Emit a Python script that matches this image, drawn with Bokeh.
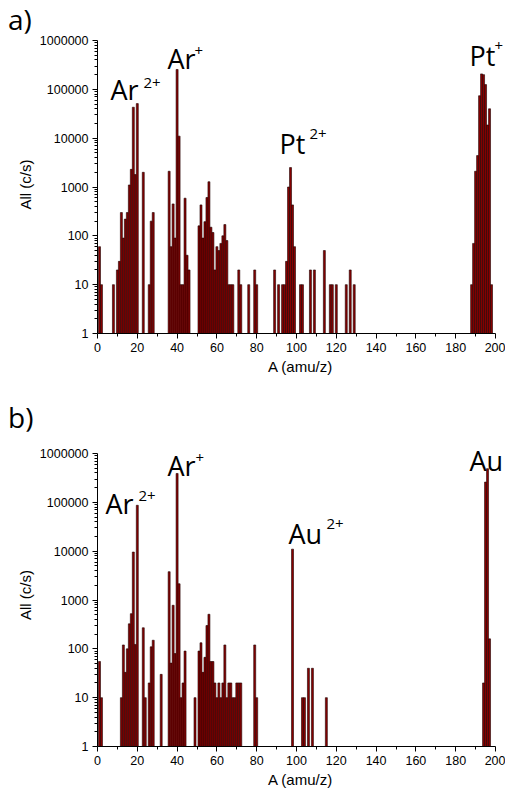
from bokeh.plotting import figure
from bokeh.models import Range1d, FixedTicker, NumeralTickFormatter, Label, ColumnDataSource, Div
from bokeh.layouts import column
from bokeh.embed import file_html
from bokeh.resources import INLINE

# ---------------- data ----------------
mass_a = [1, 2, 8, 10, 11, 12, 13, 14, 15, 16, 17, 18, 19, 20, 23, 26, 27, 28,
          36, 37, 38, 39, 40, 41, 42, 43, 44, 45, 46,
          51, 52, 53, 54, 55, 56, 57, 58, 59, 60, 61, 62, 63, 64, 65, 66, 67, 68,
          71, 72, 76, 79, 80, 89, 91, 93, 94, 95, 96, 97, 98, 99,
          102, 103, 107, 109, 114, 117, 118, 120, 125, 127, 129,
          188, 189, 190, 191, 192, 193, 194, 195, 196, 197, 198]
counts_a = [60, 10, 10, 20, 30, 300, 90, 220, 300, 1100, 2300, 43000, 1800, 51000, 2000, 10, 200, 300,
            2100, 60, 450, 90, 255000, 11000, 10, 10, 590, 40, 20,
            160, 430, 90, 195, 610, 1280, 150, 117, 20, 60, 50, 70, 100, 170, 80, 10, 10, 10,
            20, 10, 10, 20, 10, 20, 10, 10, 10, 30, 1000, 2500, 430, 60,
            10, 10, 20, 20, 50, 10, 10, 10, 10, 20, 10,
            10, 70, 2100, 4400, 74000, 207000, 200000, 125000, 18600, 40000, 10]

mass_b = [1, 2, 12, 13, 14, 15, 16, 17, 18, 19, 20, 23, 24, 26, 27, 28, 32,
          36, 37, 38, 39, 40, 41, 42, 43, 44, 49,
          51, 52, 53, 54, 55, 56, 57, 58, 59, 60, 61, 62, 63, 64, 65, 66, 67, 68, 69, 70, 71, 72,
          79, 80, 98, 103, 104, 106, 108, 115,
          194, 195, 196, 197]
counts_b = [55, 10, 10, 120, 33, 100, 325, 525, 9600, 123, 87000, 270, 10, 20, 110, 150, 30,
            3800, 51, 780, 80, 390000, 2150, 10, 20, 90, 10,
            90, 133, 33, 67, 300, 510, 55, 55, 20, 10, 20, 10, 20, 120, 10, 20, 20, 10, 10, 20, 20, 20,
            120, 10, 11000, 10, 10, 40, 40, 10,
            20, 260000, 490000, 160]

x_ticks = list(range(0, 201, 20))
y_ticks = [1, 10, 100, 1000, 10000, 100000, 1000000]

x_title = "A (amu/z)"
y_title = "All (c/s)"

# annotation texts: (text, left px, baseline px, font size) in reference pixels
labels_a = [("Ar", 110, 89, 27), ("2+", 143, 82, 15),
            ("Ar", 167, 58, 27), ("+", 194, 50, 15),
            ("Pt", 279, 143, 27), ("2+", 309, 133, 15),
            ("Pt", 469, 55, 27), ("+", 494, 45, 15)]
labels_b = [("Ar", 105, 503, 27), ("2+", 138, 495, 15),
            ("Ar", 167, 465, 27), ("+", 195, 457, 15),
            ("Au", 288, 533, 27), ("2+", 326, 523, 15),
            ("Au", 469, 460, 27)]

FRAME_LEFT = 97
DECADE = 48.83      # px per decade
PX_PER_AMU = 1.99
EXTRA_RIGHT = 8     # px of free room right of 200


def letter_div(letter):
    return Div(text=letter, width=505, height=33,
               styles={"font-family": "Open Sans", "font-size": "28px", "line-height": "38px",
                       "text-indent": "8px", "color": "black", "margin": "0", "padding": "0",
                       "overflow": "visible"})


def make_panel(mass, counts, labels, ref_bottom, extra_top, top_b, bot_b):
    frame_h = int(round(6 * DECADE + extra_top))
    frame_w = int(round(200 * PX_PER_AMU + EXTRA_RIGHT))
    y_top = 10 ** (6 + extra_top / DECADE)
    x_end = 200 + EXTRA_RIGHT / PX_PER_AMU
    p = figure(width=FRAME_LEFT + frame_w + 2, height=top_b + frame_h + bot_b,
               x_range=Range1d(0, x_end), y_range=Range1d(1, y_top),
               y_axis_type="log", output_backend="svg", toolbar_location=None,
               min_border_left=FRAME_LEFT, min_border_right=2,
               min_border_top=top_b, min_border_bottom=bot_b,
               background_fill_color="white", border_fill_color="white")
    p.outline_line_color = None
    p.xgrid.visible = False
    p.ygrid.visible = False

    src = ColumnDataSource(dict(mass=mass, counts=counts))
    p.vbar(x="mass", top="counts", bottom=1, width=1, source=src,
           fill_color="#880000", line_color="#1e0000", line_width=0.6)

    minor_y = [m * d for d in y_ticks[:-1] for m in range(2, 10)]
    p.yaxis.ticker = FixedTicker(ticks=y_ticks, minor_ticks=minor_y)
    p.yaxis.formatter = NumeralTickFormatter(format="0")
    p.yaxis.bounds = (1, 1000000)
    p.xaxis.ticker = FixedTicker(ticks=x_ticks, minor_ticks=list(range(10, 200, 20)))
    p.xaxis.bounds = (0, 200)

    for ax in (p.xaxis, p.yaxis):
        ax.axis_line_color = "black"
        ax.axis_line_width = 1
        ax.major_tick_line_color = "black"
        ax.minor_tick_line_color = "black"
        ax.major_tick_in = 0
        ax.major_tick_out = 5
        ax.minor_tick_in = 0
        ax.minor_tick_out = 3
        ax.major_label_text_font = "Liberation Sans"
        ax.major_label_text_font_size = "12.5px"
        ax.major_label_text_color = "black"
        ax.axis_label_text_font = "Liberation Sans"
        ax.axis_label_text_font_size = "15px"
        ax.axis_label_text_font_style = "normal"
        ax.axis_label_text_color = "black"
        ax.major_label_standoff = 4
        ax.axis_label_standoff = 3
    p.xaxis.axis_label = x_title
    p.yaxis.axis_label = y_title

    for txt, xl, yb, fs in labels:
        p.add_layout(Label(x=xl - FRAME_LEFT, y=ref_bottom - yb, x_units="screen", y_units="screen",
                           text=txt, text_font="Open Sans", text_font_size=f"{fs}px",
                           text_color="black", text_align="left", text_baseline="alphabetic"))
    return p


# panel a: div 0-33, frame 35-333 ; panel b: div 398-431, frame 443-746
pa = make_panel(mass_a, counts_a, labels_a, 333, 5, 2, 65)
pb = make_panel(mass_b, counts_b, labels_b, 746, 10, 12, 47)

layout = column(letter_div("a)"), pa, letter_div("b)"), pb, spacing=0)
open("out.html", "w").write(file_html(layout, INLINE))
